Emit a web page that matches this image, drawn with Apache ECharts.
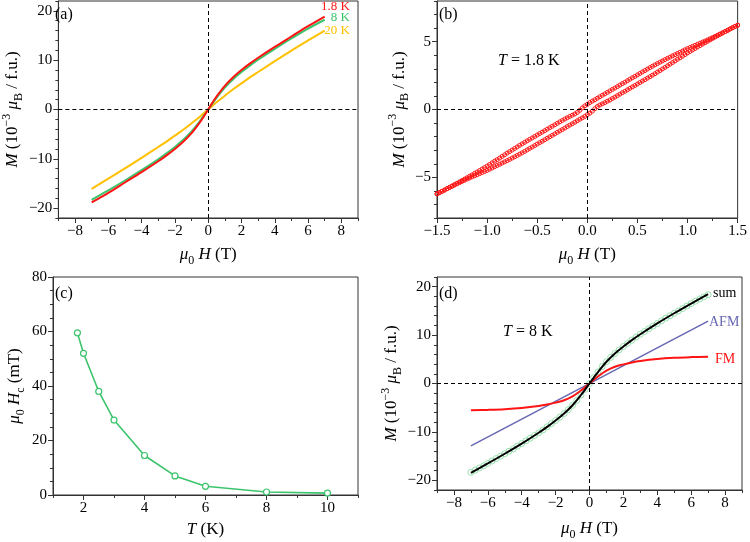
<!DOCTYPE html>
<html>
<head>
<meta charset="utf-8">
<script src="https://cdn.jsdelivr.net/npm/echarts@6/dist/echarts.min.js"></script>
<style>html,body{margin:0;padding:0;background:#fff}#c{width:750px;height:542px}</style>
</head>
<body>
<div id="c"></div>
<script>
// ---------- Panel (a): M vs mu0H at three temperatures ----------
const A_H = [-7,-6,-5,-4,-3,-2.5,-2,-1.5,-1,-0.5,-0.25,0,0.25,0.5,1,1.5,2,2.5,3,4,5,6,7];
const A_M_1p8K = [-18.85,-16.9,-14.8,-12.7,-10.5,-9.3,-8.0,-6.55,-4.8,-2.6,-1.35,0,1.35,2.6,4.8,6.55,8.0,9.3,10.5,12.7,14.8,16.9,18.85];
const A_M_8K   = [-18.3,-16.4,-14.4,-12.3,-10.1,-8.9,-7.6,-6.15,-4.45,-2.35,-1.2,0,1.2,2.35,4.45,6.15,7.6,8.9,10.1,12.3,14.4,16.4,18.2];
const A_M_20K  = [-16.1,-14.0,-11.95,-9.8,-7.6,-6.5,-5.3,-4.1,-2.8,-1.45,-0.72,0,0.72,1.45,2.8,4.1,5.3,6.5,7.6,9.8,11.95,14.0,16.0];
const A_LEGEND = ['1.8 K','8 K','20 K'];

// ---------- Panel (b): hysteresis loop at 1.8 K ----------
const B_H = [-1.5,-1.475,-1.45,-1.425,-1.4,-1.375,-1.35,-1.325,-1.3,-1.275,
  -1.25,-1.225,-1.2,-1.175,-1.15,-1.125,-1.1,-1.075,-1.05,-1.025,
  -1,-0.975,-0.95,-0.925,-0.9,-0.875,-0.85,-0.825,-0.8,-0.775,
  -0.75,-0.725,-0.7,-0.675,-0.65,-0.625,-0.6,-0.575,-0.55,-0.525,
  -0.5,-0.475,-0.45,-0.425,-0.4,-0.375,-0.35,-0.325,-0.3,-0.275,
  -0.25,-0.225,-0.2,-0.175,-0.15,-0.125,-0.1,-0.075,-0.05,-0.025,
  0,
  0.025,0.05,0.075,0.1,0.125,0.15,0.175,0.2,0.225,0.25,
  0.275,0.3,0.325,0.35,0.375,0.4,0.425,0.45,0.475,0.5,
  0.525,0.55,0.575,0.6,0.625,0.65,0.675,0.7,0.725,0.75,
  0.775,0.8,0.825,0.85,0.875,0.9,0.925,0.95,0.975,1,
  1.025,1.05,1.075,1.1,1.125,1.15,1.175,1.2,1.225,1.25,
  1.275,1.3,1.325,1.35,1.375,1.4,1.425,1.45,1.475,1.5];
// descending-field branch (upper)
const B_M_DESC = [-6.22,-6.13,-6.03,-5.94,-5.84,-5.74,-5.64,-5.54,-5.44,-5.34,
  -5.24,-5.13,-5.03,-4.92,-4.82,-4.71,-4.61,-4.50,-4.39,-4.28,
  -4.17,-4.05,-3.93,-3.81,-3.70,-3.58,-3.46,-3.34,-3.22,-3.10,
  -2.99,-2.87,-2.76,-2.64,-2.53,-2.42,-2.31,-2.20,-2.10,-1.99,
  -1.88,-1.77,-1.67,-1.56,-1.45,-1.34,-1.24,-1.13,-1.02,-0.91,
  -0.81,-0.70,-0.61,-0.51,-0.42,-0.33,-0.22,-0.06,0.12,0.27,
  0.38,
  0.51,0.62,0.72,0.83,0.94,1.05,1.15,1.26,1.37,1.48,
  1.58,1.69,1.80,1.91,2.01,2.12,2.23,2.34,2.44,2.55,
  2.66,2.77,2.87,2.98,3.09,3.19,3.29,3.39,3.49,3.58,
  3.68,3.77,3.86,3.95,4.04,4.13,4.22,4.31,4.40,4.49,
  4.57,4.65,4.73,4.81,4.89,4.97,5.05,5.13,5.22,5.30,
  5.39,5.48,5.57,5.66,5.75,5.84,5.94,6.03,6.13,6.22];
// ascending-field branch (lower)
const B_M_ASC = [-6.22,-6.13,-6.03,-5.94,-5.84,-5.75,-5.66,-5.57,-5.48,-5.39,
  -5.30,-5.22,-5.13,-5.05,-4.97,-4.89,-4.81,-4.73,-4.65,-4.57,
  -4.49,-4.40,-4.31,-4.22,-4.13,-4.04,-3.95,-3.86,-3.77,-3.68,
  -3.58,-3.49,-3.39,-3.29,-3.19,-3.09,-2.98,-2.87,-2.77,-2.66,
  -2.55,-2.44,-2.34,-2.23,-2.12,-2.01,-1.91,-1.80,-1.69,-1.58,
  -1.48,-1.37,-1.26,-1.15,-1.05,-0.94,-0.83,-0.72,-0.62,-0.51,
  -0.38,
  -0.27,-0.12,0.06,0.22,0.33,0.42,0.51,0.61,0.70,0.81,
  0.91,1.02,1.13,1.24,1.34,1.45,1.56,1.67,1.77,1.88,
  1.99,2.10,2.20,2.31,2.42,2.53,2.64,2.76,2.87,2.99,
  3.10,3.22,3.34,3.46,3.58,3.70,3.81,3.93,4.05,4.17,
  4.28,4.39,4.50,4.61,4.71,4.82,4.92,5.03,5.13,5.24,
  5.34,5.44,5.54,5.64,5.74,5.84,5.94,6.03,6.13,6.22];

// ---------- Panel (c): coercive field vs T ----------
const C_T  = [1.8, 2, 2.5, 3, 4, 5, 6, 8, 10];
const C_HC = [59.5, 52, 38, 27.5, 14.5, 7, 3.2, 1.1, 0.7];

// ---------- Panel (d): 8 K decomposition ----------
const D_H_DATA = [-7,-6.75,-6.5,-6.25,-6,-5.75,-5.5,-5.25,-5,-4.75,-4.5,-4.25,-4,-3.75,-3.5,-3.25,-3,-2.75,-2.5,-2.25,-2,-1.75,-1.5,-1.25,-1,-0.75,-0.5,-0.25,0,
  0.25,0.5,0.75,1,1.25,1.5,1.75,2,2.25,2.5,2.75,3,3.25,3.5,3.75,4,4.25,4.5,4.75,5,5.25,5.5,5.75,6,6.25,6.5,6.75,7];
const D_M_DATA = [-18.35,-17.9,-17.45,-17.0,-16.5,-16.0,-15.5,-15.0,-14.5,-14.0,-13.5,-12.95,-12.4,-11.85,-11.3,-10.75,-10.2,-9.6,-8.95,-8.3,-7.65,-6.95,-6.2,-5.4,-4.5,-3.5,-2.4,-1.2,0,
  1.2,2.4,3.5,4.5,5.4,6.2,6.95,7.65,8.3,8.95,9.6,10.2,10.75,11.3,11.85,12.4,12.95,13.5,14.0,14.5,15.0,15.5,16.0,16.5,17.0,17.45,17.9,18.35];
const D_H_FIT = [-7,-6,-5,-4,-3,-2.5,-2,-1.5,-1,-0.5,-0.25,0,0.25,0.5,1,1.5,2,2.5,3,4,5,6,7];
const D_M_SUM = [-18.45,-16.51,-14.51,-12.42,-10.18,-8.96,-7.64,-6.21,-4.49,-2.37,-1.21,0,1.21,2.37,4.49,6.21,7.64,8.96,10.18,12.42,14.51,16.51,18.45];
const D_M_FM  = [-5.55,-5.45,-5.3,-5.05,-4.65,-4.35,-3.95,-3.45,-2.65,-1.45,-0.75,0,0.75,1.45,2.65,3.45,3.95,4.35,4.65,5.05,5.3,5.45,5.55];
const D_H_AFM = [-7, 7];
const D_M_AFM = [-12.9, 12.9];
const D_LABELS = ['sum','AFM','FM'];

// ---------- tick labels ----------
const TICKS_MH_X = [-8,-6,-4,-2,0,2,4,6,8];
const TICKS_MH_Y = [-20,-10,0,10,20];
const TICKS_B_X = [-1.5,-1.0,-0.5,0,0.5,1.0,1.5];
const TICKS_B_Y = [-5,0,5];
const TICKS_C_X = [2,4,6,8,10];
const TICKS_C_Y = [0,20,40,60,80];

// ================= building =================
const FONT = 'Liberation Serif';
const AX = '#333';
const RED = '#ff1414', GREEN = '#3cc46c', YELLOW = '#ffc000', AFMC = '#6767b3';

function minors(min, max, step, majors) {
  const out = [];
  const n = Math.round((max - min) / step);
  for (let i = 0; i <= n; i++) {
    const v = +(min + i * step).toFixed(4);
    if (!majors.some(m => Math.abs(m - v) < 1e-6)) out.push(v);
  }
  return out;
}
const minus = s => String(s).replace('-', '\u2212');
const RICH = {
  n: {fontFamily: FONT, fontSize: 17, lineHeight: 24, color: '#000'},
  i: {fontFamily: FONT, fontSize: 17, lineHeight: 24, fontStyle: 'italic', color: '#000'},
  s: {fontFamily: FONT, fontSize: 12, lineHeight: 12, verticalAlign: 'bottom', color: '#000'},
  p: {fontFamily: FONT, fontSize: 12, lineHeight: 12, verticalAlign: 'top', color: '#000'}
};
const xAxes = [], yAxes = [];
function pair(list, dim, grid, min, max, majors, minorList, fmt, name, gap) {
  list.push({
    type: 'value', gridIndex: grid, min, max, position: dim === 'x' ? 'bottom' : 'left',
    axisLine: {show: true, onZero: false, lineStyle: {color: AX, width: 1}},
    axisTick: {show: true, inside: false, length: 5, customValues: majors, lineStyle: {color: AX, width: 1}},
    axisLabel: {customValues: majors, formatter: fmt, color: '#000', fontFamily: FONT, fontSize: 15, margin: 6},
    splitLine: {show: false},
    name, nameLocation: 'middle', nameGap: gap,
    nameTextStyle: {rich: RICH}
  });
  list.push({
    type: 'value', gridIndex: grid, min, max, position: dim === 'x' ? 'bottom' : 'left',
    axisLine: {show: false, onZero: false},
    axisTick: {show: true, inside: false, length: 3, customValues: minorList, lineStyle: {color: AX, width: 1}},
    axisLabel: {show: false}, splitLine: {show: false}
  });
}
const intFmt = v => minus(v);
const oneDec = v => minus((+v).toFixed(1));
const NAME_H = '{i|μ}{s|0}{n| }{i|H}{n| (T)}';
const NAME_M = '{i|M}{n| (10}{p|−3}{n| }{i|μ}{s|B}{n| / f.u.)}';
const NAME_HC = '{i|μ}{s|0}{n| }{i|H}{s|c}{n| (mT)}';
const NAME_T = '{i|T}{n| (K)}';

// grid 0 (a)
pair(xAxes, 'x', 0, -9, 9, TICKS_MH_X, minors(-9, 9, 1, TICKS_MH_X), intFmt, NAME_H, 25);
pair(yAxes, 'y', 0, -22, 22, TICKS_MH_Y, minors(-22, 22, 2, TICKS_MH_Y), intFmt, NAME_M, 30);
// grid 1 (b)
pair(xAxes, 'x', 1, -1.5, 1.5, TICKS_B_X, minors(-1.5, 1.5, 0.25, TICKS_B_X), oneDec, NAME_H, 25);
pair(yAxes, 'y', 1, -8, 8, TICKS_B_Y, minors(-8, 8, 1, TICKS_B_Y), intFmt, NAME_M, 24);
// grid 2 (c)
pair(xAxes, 'x', 2, 1, 11, TICKS_C_X, minors(1, 11, 1, TICKS_C_X), intFmt, NAME_T, 23);
pair(yAxes, 'y', 2, 0, 80, TICKS_C_Y, minors(0, 80, 5, TICKS_C_Y), intFmt, NAME_HC, 26);
// grid 3 (d)
pair(xAxes, 'x', 3, -9, 9, TICKS_MH_X, minors(-9, 9, 1, TICKS_MH_X), intFmt, NAME_H, 27);
pair(yAxes, 'y', 3, -22, 22, TICKS_MH_Y, minors(-22, 22, 2, TICKS_MH_Y), intFmt, NAME_M, 28);

const zip = (xs, ys) => xs.map((x, i) => [x, ys[i]]);
const zeroLines = {
  silent: true, symbol: 'none', animation: false,
  label: {show: false},
  lineStyle: {color: '#000', type: [4, 3], width: 1},
  data: [{xAxis: 0}, {yAxis: 0}]
};
function curve(ax, xs, ys, color, width, extra) {
  return Object.assign({
    type: 'line', xAxisIndex: ax * 2, yAxisIndex: ax * 2, data: zip(xs, ys),
    showSymbol: false, symbol: 'none', smooth: 0.35,
    lineStyle: {color, width}, itemStyle: {color}, z: 3
  }, extra || {});
}
function loopBranch(ys, withLines) {
  const s = {type: 'line', xAxisIndex: 2, yAxisIndex: 2, data: zip(B_H, ys),
   symbol: 'circle', symbolSize: 4, showSymbol: true,
   itemStyle: {color: 'rgba(255,255,255,0)', borderColor: RED, borderWidth: 1},
   lineStyle: {color: RED, width: 0.8}, z: 3};
  if (withLines) s.markLine = zeroLines;
  return s;
}

const series = [
  // (a)
  curve(0, A_H, A_M_20K, YELLOW, 2, {markLine: zeroLines}),
  curve(0, A_H, A_M_8K, GREEN, 2),
  curve(0, A_H, A_M_1p8K, RED, 2),
  // (b)
  loopBranch(B_M_DESC, true),
  loopBranch(B_M_ASC, false),
  // (c)
  {type: 'line', xAxisIndex: 4, yAxisIndex: 4, data: zip(C_T, C_HC),
   symbol: 'circle', symbolSize: 6, showSymbol: true,
   itemStyle: {color: '#fff', borderColor: GREEN, borderWidth: 1.2},
   lineStyle: {color: GREEN, width: 1.6}},
  // (d)
  {type: 'scatter', xAxisIndex: 6, yAxisIndex: 6, data: zip(D_H_DATA, D_M_DATA),
   symbol: 'circle', symbolSize: 6,
   itemStyle: {color: 'rgba(255,255,255,0)', borderColor: '#7fd99b', borderWidth: 1}, z: 2,
   markLine: zeroLines},
  curve(3, D_H_AFM, D_M_AFM, AFMC, 1.5, {smooth: false}),
  curve(3, D_H_FIT, D_M_FM, RED, 2),
  curve(3, D_H_FIT, D_M_SUM, '#000', 2, {z: 4})
];

function txt(x, y, text, color, size, align, rich) {
  const st = {x, y, text, fill: color, font: size + 'px "' + FONT + '"',
              align: align || 'left', verticalAlign: 'middle'};
  if (rich) st.rich = rich;
  return {type: 'text', style: st, z: 10};
}
const TRICH = {
  it: {fontFamily: FONT, fontSize: 16, fontStyle: 'italic', fill: '#000'},
  r: {fontFamily: FONT, fontSize: 16, fill: '#000'}
};
const graphics = [
  txt(55, 15, '(a)', '#000', 16),
  txt(439, 15, '(b)', '#000', 16),
  txt(55, 294, '(c)', '#000', 16),
  txt(439, 294, '(d)', '#000', 16),
  txt(350, 7, A_LEGEND[0], RED, 13, 'right'),
  txt(350, 18, A_LEGEND[1], GREEN, 13, 'right'),
  txt(350, 30.5, A_LEGEND[2], YELLOW, 13, 'right'),
  txt(498, 61, '{it|T}{r| = 1.8 K}', '#000', 16, 'left', TRICH),
  txt(503, 332, '{it|T}{r| = 8 K}', '#000', 16, 'left', TRICH),
  txt(713, 293, D_LABELS[0], '#000', 14),
  txt(709, 322, D_LABELS[1], AFMC, 14),
  txt(715, 359, D_LABELS[2], RED, 14)
];

const chart = echarts.init(document.getElementById('c'), null, {renderer: 'canvas'});
chart.setOption({
  animation: false,
  backgroundColor: '#fff',
  grid: [
    {left: 53, top: 1, width: 305, height: 217, show: true, borderColor: AX, borderWidth: 1, backgroundColor: 'transparent'},
    {left: 437, top: 1, width: 305, height: 217, show: true, borderColor: AX, borderWidth: 1, backgroundColor: 'transparent'},
    {left: 53, top: 277, width: 305, height: 218, show: true, borderColor: AX, borderWidth: 1, backgroundColor: 'transparent'},
    {left: 437, top: 277, width: 305, height: 218, show: true, borderColor: AX, borderWidth: 1, backgroundColor: 'transparent'}
  ],
  xAxis: xAxes,
  yAxis: yAxes,
  series,
  graphic: graphics
});
</script>
</body>
</html>
